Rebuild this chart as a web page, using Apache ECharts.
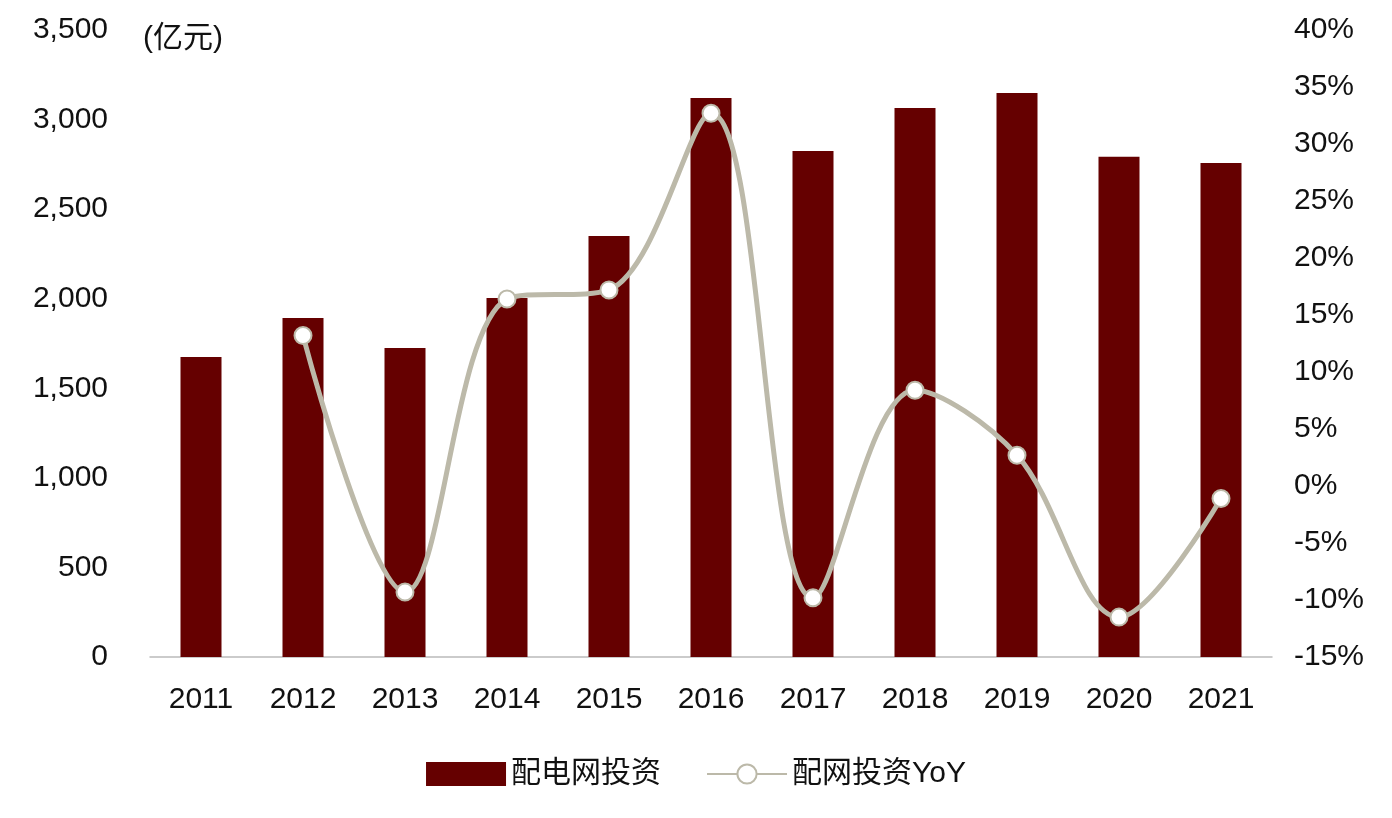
<!DOCTYPE html>
<html><head><meta charset="utf-8">
<script src="https://cdn.jsdelivr.net/npm/echarts@6/dist/echarts.min.js"></script>
<style>html,body{margin:0;padding:0;background:#fff}#c{width:1392px;height:818px}</style>
</head><body><div id="c"></div>
<script>
const categories = ['2011','2012','2013','2014','2015','2016','2017','2018','2019','2020','2021'];
const investment = [1675,1893,1725,2004,2350,3121,2825,3065,3149,2792,2758];
const yoy = [null,13.2,-9.3,16.4,17.2,32.7,-9.8,8.4,2.7,-11.5,-1.1];
const font = 'Arial, "Liberation Sans", "Noto Sans CJK SC", sans-serif';
const chart = echarts.init(document.getElementById('c'));
chart.setOption({
  animation:false,
  textStyle:{fontFamily:font},
  grid:{left:150,right:120,top:30,bottom:161},
  graphic:[{type:'text',left:143,top:24,style:{text:'(亿元)',fontSize:30,fill:'#111',fontFamily:font}}],
  legend:{bottom:24,left:'center',itemWidth:80,itemHeight:24,itemGap:45,
    textStyle:{fontSize:30,color:'#111',fontFamily:font},
    data:[{name:'配电网投资',icon:'rect'},{name:'配网投资YoY'}]},
  xAxis:{type:'category',data:categories,
    axisLine:{lineStyle:{color:'#bbb',width:1.5}},axisTick:{show:false},
    axisLabel:{fontSize:30,color:'#111',margin:28}},
  yAxis:[
    {type:'value',min:0,max:3500,interval:500,splitLine:{show:false},
     axisLabel:{fontSize:30,color:'#111',margin:42,
       formatter:v=>v.toLocaleString('en-US')}},
    {type:'value',min:-15,max:40,interval:5,splitLine:{show:false},
     axisLabel:{fontSize:30,color:'#111',margin:22,formatter:v=>v+'%'}}
  ],
  series:[
    {name:'配电网投资',type:'bar',data:investment,barWidth:41,itemStyle:{color:'#650000'}},
    {name:'配网投资YoY',type:'line',yAxisIndex:1,data:yoy,smooth:0.35,
     symbol:'circle',symbolSize:17,
     lineStyle:{color:'#bcb9a9',width:5},
     itemStyle:{color:'#fff',borderColor:'#bcb9a9',borderWidth:2}}
  ]
});
</script></body></html>
